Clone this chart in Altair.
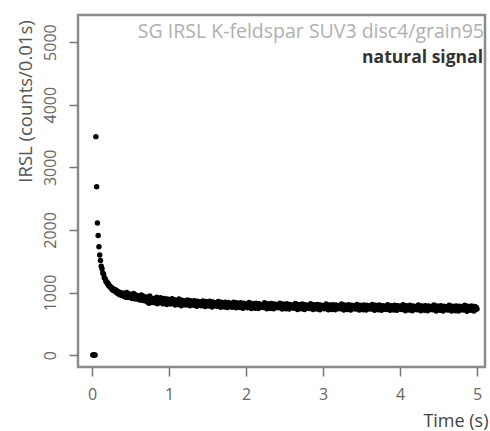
import altair as alt
import pandas as pd

# channel times (s), 0.01 s per channel
time_s = [round(0.01 * i, 2) for i in range(1, 501)]

counts = [
    0, 0, 0, 0, 3490, 2690, 2110, 1910, 1730, 1600,
    1510, 1420, 1380, 1310, 1290, 1235, 1225, 1180, 1170, 1140,
    1145, 1105, 1110, 1080, 1085, 1050, 1065, 1030, 1050, 1020,
    1040, 995, 1020, 980, 1010, 965, 995, 955, 990, 950,
    990, 935, 975, 925, 1000, 950, 920, 980, 940, 965,
    965, 905, 950, 985, 900, 935, 960, 895, 945, 920,
    945, 880, 930, 960, 875, 915, 940, 870, 925, 900,
    925, 850, 900, 830, 945, 875, 910, 840, 895, 865,
    905, 835, 880, 925, 820, 870, 895, 845, 915, 850,
    890, 820, 875, 905, 830, 860, 810, 895, 845, 870,
    880, 815, 860, 900, 825, 850, 885, 800, 865, 835,
    870, 810, 895, 835, 855, 790, 875, 820, 860, 830,
    865, 800, 845, 880, 815, 835, 790, 870, 825, 850,
    855, 795, 870, 820, 840, 780, 860, 810, 845, 805,
    850, 790, 835, 865, 800, 825, 775, 855, 810, 830,
    840, 785, 860, 810, 825, 770, 850, 800, 835, 795,
    835, 780, 820, 855, 790, 810, 765, 845, 800, 815,
    830, 770, 845, 805, 815, 760, 840, 790, 825, 785,
    825, 765, 810, 845, 780, 800, 755, 835, 790, 805,
    820, 760, 835, 795, 805, 750, 830, 780, 815, 775,
    815, 755, 800, 840, 770, 790, 745, 825, 780, 800,
    810, 750, 830, 785, 800, 745, 820, 775, 805, 770,
    805, 760, 795, 835, 765, 785, 740, 820, 775, 795,
    810, 745, 825, 780, 795, 740, 815, 770, 800, 765,
    800, 755, 790, 830, 760, 780, 735, 815, 770, 790,
    805, 740, 820, 775, 790, 735, 810, 765, 795, 760,
    795, 750, 785, 825, 755, 775, 730, 810, 765, 785,
    800, 740, 815, 770, 785, 730, 805, 760, 790, 755,
    795, 745, 780, 820, 750, 770, 730, 805, 760, 780,
    800, 735, 810, 765, 780, 725, 800, 755, 790, 750,
    790, 740, 780, 815, 745, 765, 725, 800, 755, 775,
    795, 730, 805, 765, 780, 725, 800, 750, 785, 745,
    790, 740, 775, 815, 745, 765, 720, 800, 755, 775,
    790, 730, 805, 760, 775, 720, 795, 750, 785, 745,
    785, 735, 775, 810, 740, 760, 720, 795, 750, 770,
    790, 725, 800, 760, 775, 720, 795, 745, 780, 740,
    785, 735, 770, 810, 740, 760, 715, 795, 750, 770,
    785, 725, 800, 755, 770, 715, 790, 745, 780, 740,
    780, 730, 770, 805, 735, 755, 715, 790, 745, 765,
    785, 720, 795, 755, 770, 715, 790, 745, 780, 740,
    780, 730, 765, 805, 735, 755, 710, 790, 745, 765,
    780, 720, 795, 750, 765, 710, 785, 740, 775, 735,
    775, 725, 765, 800, 730, 750, 710, 785, 740, 760,
    780, 715, 790, 750, 765, 710, 785, 735, 770, 735,
    775, 725, 760, 800, 730, 750, 705, 785, 740, 760,
    775, 715, 790, 745, 760, 705, 780, 735, 770, 730,
    770, 720, 760, 795, 725, 745, 705, 780, 735, 755,
    775, 710, 785, 745, 760, 705, 780, 730, 765, 730,
    770, 720, 755, 795, 725, 745, 700, 780, 735, 755,
    770, 715, 785, 740, 760, 705, 775, 730, 765, 735,
]

x_ticks = [0, 1, 2, 3, 4, 5]
y_ticks = [0, 1000, 2000, 3000, 4000, 5000]
title_line = "SG IRSL K-feldspar SUV3 disc4/grain95"
subtitle_line = "natural signal"

df = pd.DataFrame({"t": time_s, "c": counts})
label_df = pd.DataFrame({"k": [0]})

FONT = "Open Sans"
W, H = 407, 352

points = alt.Chart(df).mark_circle(size=30, color="black", opacity=1).encode(
    x=alt.X("t:Q",
            scale=alt.Scale(domain=[-0.182, 5.104], nice=False, zero=False),
            axis=alt.Axis(values=x_ticks, title="Time (s)", grid=False, domain=False,
                          format="d",
                          tickSize=9, tickColor="#777", tickWidth=1.5,
                          labelPadding=10, labelFontSize=16, labelColor="#666",
                          labelFont=FONT, titleFont=FONT, titleFontSize=18,
                          titleFontWeight="normal", titleColor="#444",
                          titleX=W + 3, titleY=54, titleAlign="right",
                          titleBaseline="middle")),
    y=alt.Y("c:Q",
            scale=alt.Scale(domain=[-190, 5433], nice=False, zero=False),
            axis=alt.Axis(values=y_ticks, title="IRSL (counts/0.01s)", grid=False,
                          domain=False, format="d",
                          tickSize=9, tickColor="#777", tickWidth=1.5,
                          labelAngle=270, labelAlign="center", labelBaseline="bottom",
                          labelPadding=11, labelFontSize=16, labelColor="#666",
                          labelFont=FONT, titleFont=FONT, titleFontSize=18.5,
                          titleFontWeight="normal", titleColor="#555",
                          titleAngle=270, titleX=-53, titleY=86,
                          titleAlign="center", titleBaseline="middle")),
)

t1 = alt.Chart(label_df).mark_text(align="right", baseline="middle", font=FONT,
                                   fontSize=19.5, color="#b0b0b0").encode(
    x=alt.value(W - 1), y=alt.value(17), text=alt.value(title_line))
t2 = alt.Chart(label_df).mark_text(align="right", baseline="middle", font=FONT,
                                   fontSize=17.5, fontWeight="bold", color="#333").encode(
    x=alt.value(W - 2), y=alt.value(43), text=alt.value(subtitle_line))

chart = alt.layer(points, t1, t2).properties(
    width=W, height=H,
    autosize=alt.AutoSizeParams(type="none"),
    padding={"left": 78, "top": 15, "right": 5, "bottom": 64},
).configure_view(stroke="#8c8c8c", strokeWidth=2.5)

chart.save("out.html", embed_options={"renderer": "svg", "actions": False})
